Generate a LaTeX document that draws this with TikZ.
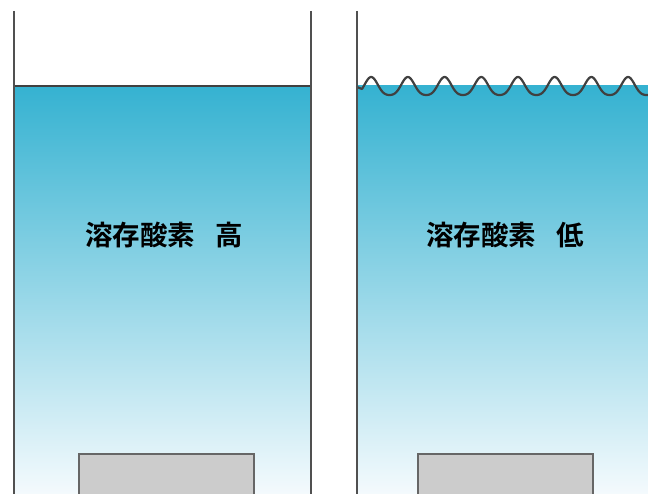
\documentclass[tikz,border=0pt]{standalone}
\usepackage{fontspec}
\usepackage{xcolor}
\usepackage{tikz}
\usetikzlibrary{positioning}
\newfontfamily\jpfont{Noto Sans CJK JP}[BoldFont={Noto Sans CJK JP Bold}]
\definecolor{watertop}{RGB}{53,178,209}
\definecolor{waterbottom}{RGB}{244,250,253}
\definecolor{wallgray}{RGB}{80,80,80}
\definecolor{stonegray}{RGB}{204,204,204}
\tikzset{wall/.style={draw=wallgray,line width=1.7pt},
         water/.style={top color=watertop,bottom color=waterbottom,draw=none},
         surface/.style={draw=black!75,line width=2.2pt},
         stone/.style={fill=stonegray,draw=black!60,line width=2.2pt},
         label text/.style={font=\jpfont\bfseries\fontsize{27.5}{30}\selectfont,inner sep=0pt},
            }

\begin{document}
\begin{tikzpicture}[x=1pt,y=-1pt]

    \useasboundingbox (0,0) rectangle (648,494);
    \clip (0,0) rectangle (648,494);

    % water in both tanks
    \fill[water] (14,86) rectangle (311,494);
    \fill[water] (357,86) rectangle (648,494);

    % calm surface on the left, waves on the right
    \draw[surface] (14,86) -- (311,86);
    \draw[surface,line join=round,line cap=round]
    (357,87) -- plot[domain=362:648,samples=300,smooth]
    (\x,{87.5-9*sin((\x-362)/36.7*360)+1.5*cos((\x-362)/36.7*720)});

    % tank walls
    \draw[wall] (14,11) -- (14,494);
    \draw[wall] (311,11) -- (311,494);
    \draw[wall] (357,11) -- (357,494);

    % stones on the bottom
    \draw[stone] (79,454) rectangle (254,500);
    \draw[stone] (418,454) rectangle (593,500);

    \node[label text] (high) at (164,235) {溶存酸素\hspace{20pt}高};
    \node[label text] (low) at (505,235) {溶存酸素\hspace{20pt}低};

\end{tikzpicture}
\end{document}
